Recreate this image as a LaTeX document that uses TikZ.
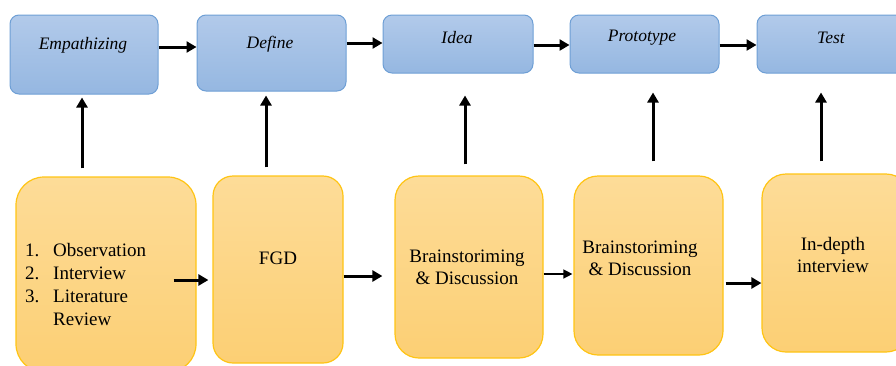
\documentclass[tikz,border=0pt]{standalone}
\usepackage{fontspec}
\setmainfont{Liberation Serif}
\newfontfamily\boxfont{Liberation Serif}
\usetikzlibrary{arrows.meta,calc}

\definecolor{topA}{HTML}{B2CAEA}
\definecolor{topB}{HTML}{95B7E1}
\definecolor{topEdge}{HTML}{6E9FD5}
\definecolor{botA}{HTML}{FDDC98}
\definecolor{botB}{HTML}{FCCF74}
\definecolor{botEdge}{HTML}{FFC414}

\tikzset{
  topbox/.style={rounded corners=9pt, draw=topEdge, line width=1pt,
    top color=topA, bottom color=topB, inner sep=0pt},
  botbox/.style={rounded corners=24pt, draw=botEdge, line width=1.2pt,
    top color=botA, bottom color=botB, inner sep=0pt},
  toplbl/.style={font=\boxfont\fontsize{17.5}{20}\selectfont\itshape, inner sep=0pt},
  botlbl/.style={font=\boxfont\fontsize{19}{22}\selectfont, align=center, inner sep=0pt},
  arr/.style={line width=3pt, -{Triangle[length=10pt,width=11pt]}},
  thinarr/.style={line width=1.4pt, -{Triangle[length=9pt,width=9pt]}}
}

\begin{document}
\begin{tikzpicture}[x=1pt,y=-1pt]
  \useasboundingbox (0,0) rectangle (896,365);
  \clip (0,0) rectangle (896,365);

  % phase boxes along the top
  \node[topbox, minimum width=148pt, minimum height=79pt] (t1) at (84,54.5) {};
  \node[topbox, minimum width=149pt, minimum height=76pt] (t2) at (271.5,53) {};
  \node[topbox, minimum width=150pt, minimum height=58pt] (t3) at (458,44) {};
  \node[topbox, minimum width=149pt, minimum height=58pt] (t4) at (644.5,44) {};
  \node[topbox, minimum width=148pt, minimum height=58pt] (t5) at (831,44) {};

  \node[toplbl] (l1) at (83,45) {Empathizing};
  \node[toplbl] (l2) at (270,44) {Define};
  \node[toplbl] (l3) at (457,38) {Idea};
  \node[toplbl] (l4) at (642,38) {Prototype};
  \node[toplbl] (l5) at (831,38) {Test};

  % method boxes along the bottom
  \node[botbox, minimum width=180pt, minimum height=195pt, rounded corners=28pt] (b1) at (106,274.5) {};
  \node[botbox, minimum width=130pt, minimum height=187pt, rounded corners=20pt] (b2) at (278,269.5) {};
  \node[botbox, minimum width=148pt, minimum height=182pt] (b3) at (469,267) {};
  \node[botbox, minimum width=149pt, minimum height=179pt] (b4) at (648.5,265.5) {};
  \node[botbox, minimum width=148pt, minimum height=178pt] (b5) at (836,263) {};

  \node[font=\boxfont\fontsize{19}{23}\selectfont, align=left, inner sep=0pt, anchor=west] (m1) at (25,284)
    {\makebox[28pt][l]{1.}Observation\\
     \makebox[28pt][l]{2.}Interview\\
     \makebox[28pt][l]{3.}Literature\\
     \hspace*{28pt}Review};
  \node[botlbl] (m2) at (278,258) {FGD};
  \node[botlbl] (m3) at (467,267) {Brainstoriming\\\& Discussion};
  \node[botlbl] (m4) at (640,258) {Brainstoriming\\\& Discussion};
  \node[botlbl] (m5) at (833,254.5) {In-depth\\interview};

  % flow between phases
  \draw[arr] ([yshift=7.5pt]t1.east) -- ([yshift=6pt]t2.west);
  \draw[arr] ([yshift=10pt]t2.east) -- ([yshift=1pt]t3.west);
  \draw[arr] ([yshift=-1pt]t3.east) -- ([yshift=-1pt]t4.west);
  \draw[arr] ([yshift=-1pt]t4.east) -- ([yshift=-1pt]t5.west);

  % flow between methods
  \draw[arr, shorten <=-23pt, shorten >=4pt] ([yshift=-5.5pt]b1.east) -- ([yshift=-10.5pt]b2.west);
  \draw[arr, shorten >=12pt] ([yshift=-6.5pt]b2.east) -- ([yshift=-9pt]b3.west);
  \draw[thinarr, shorten >=1pt] ([yshift=-7pt]b3.east) -- ([yshift=-8.5pt]b4.west);
  \draw[arr, shorten <=2pt] ([yshift=-17.5pt]b4.east) -- ([yshift=-20pt]b5.west);

  % each method feeds its phase
  \draw[arr, shorten <=8pt, shorten >=3pt] ($(t1.south |- b1.north)+(-2,0)$) -- ($(t1.south)+(-2,0)$);
  \draw[arr, shorten <=8pt, shorten >=4pt] ($(t2.south |- b2.north)+(-5.5,0)$) -- ($(t2.south)+(-5.5,0)$);
  \draw[arr, shorten <=11pt, shorten >=22pt] ($(t3.south |- b3.north)+(7,0)$) -- ($(t3.south)+(7,0)$);
  \draw[arr, shorten <=14pt, shorten >=19pt] ($(t4.south |- b4.north)+(8.5,0)$) -- ($(t4.south)+(8.5,0)$);
  \draw[arr, shorten <=12pt, shorten >=19pt] ($(t5.south |- b5.north)+(-10,0)$) -- ($(t5.south)+(-10,0)$);
\end{tikzpicture}
\end{document}
